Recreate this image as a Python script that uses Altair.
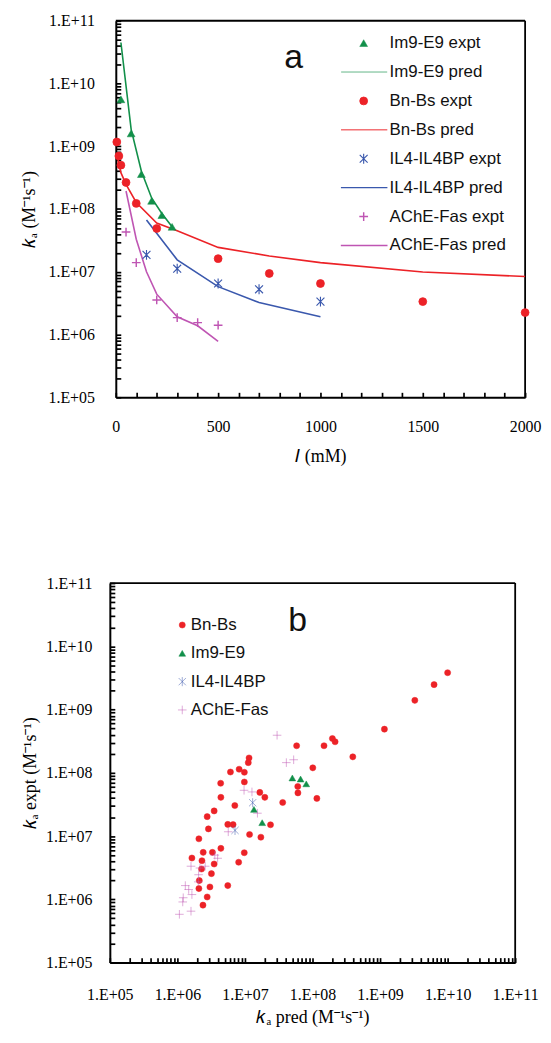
import altair as alt
import pandas as pd

# ---------------- Panel a data (ionic strength dependence) ----------------
im9_I = [25, 75, 125, 175, 225, 275]
im9_expt = [5.6e9, 1.6e9, 3.6e8, 1.35e8, 8.0e7, 5.2e7]
im9_pred_I = [25, 75, 125, 175, 225, 275]
im9_pred = [4.5e10, 1.86e9, 4.0e8, 1.5e8, 8.5e7, 5.2e7]

bn_I = [5, 15, 25, 50, 100, 200, 500, 750, 1000, 1500, 2000]
bn_expt = [1.17e9, 7.0e8, 5.0e8, 2.65e8, 1.23e8, 4.9e7, 1.62e7, 9.4e6, 6.5e6, 3.35e6, 2.24e6]
bn_pred_I = [10, 25, 50, 100, 200, 300, 500, 750, 1000, 1500, 2000]
bn_pred = [6.2e8, 3.8e8, 2.47e8, 1.27e8, 6.0e7, 4.5e7, 2.45e7, 1.79e7, 1.4e7, 9.95e6, 8.4e6]

il4_I = [150, 300, 500, 700, 1000]
il4_expt = [1.86e7, 1.12e7, 6.5e6, 5.26e6, 3.35e6]
il4_pred_I = [150, 300, 500, 700, 1000]
il4_pred = [6.7e7, 1.55e7, 5.8e6, 3.24e6, 1.92e6]

ache_I = [50, 100, 200, 300, 400, 500]
ache_expt = [4.3e7, 1.4e7, 3.56e6, 1.86e6, 1.55e6, 1.41e6]
ache_pred_I = [50, 100, 150, 200, 300, 400, 500]
ache_pred = [1.94e8, 3.3e7, 1.0e7, 4.4e6, 1.92e6, 1.38e6, 7.8e5]

# ---------------- Panel b data (expt vs pred) ----------------
bn_b_pred = [1.0e10, 6.3e9, 3.27e9, 1.16e9, 3.95e8, 1.97e8, 2.16e8, 1.48e8, 5.82e7, 1.01e8,
             6.05e7, 6.08e7, 1.16e8, 3.62e7, 2.39e7, 1.72e7, 1.17e7, 1.97e7, 1.66e7, 1.15e7,
             1.12e7, 8.2e6, 6.1e6, 9.8e6, 4.37e6, 9.8e6, 4.4e6, 7.08e6, 3.5e6, 2.76e6,
             2.88e6, 5.57e6, 6.67e6, 2.08e6, 4.4e6, 2.41e6, 3.3e6, 9.77e6, 1.64e6, 2.31e6,
             3.5e6, 8.07e6, 2.28e6, 3.19e6, 2.11e6, 2.08e6, 3.03e6, 5.57e6, 2.76e6, 2.39e6]
bn_b_expt = [3.83e9, 2.48e9, 1.4e9, 4.9e8, 1.79e8, 3.49e8, 3.1e8, 2.68e8, 2.68e8, 1.2e8,
             6.09e7, 4.82e7, 3.94e7, 3.4e7, 1.51e7, 9.6e6, 1.06e7, 4.1e7, 4.9e7, 1.72e8,
             1.45e8, 1.14e8, 1.03e8, 1.02e8, 6.84e7, 7.16e7, 4.1e7, 3.04e7, 2.5e7, 2.03e7,
             1.3e7, 1.53e7, 1.52e7, 9.06e6, 6.4e6, 5.53e6, 5.53e6, 5.46e6, 4.5e6, 4.08e6,
             3.62e6, 3.86e6, 3.02e6, 2.55e6, 1.98e6, 1.48e6, 1.57e6, 1.65e6, 1.09e6, 8.1e5]

im9_b_pred = [5.03e7, 6.66e7, 8.08e7, 1.36e7, 1.8e7]
im9_b_expt = [8.3e7, 7.98e7, 6.7e7, 2.64e7, 1.63e7]

il4_b_pred = [1.3e7, 7.13e6]
il4_b_expt = [3.37e7, 1.23e7]

ache_b_pred = [2.99e7, 4.1e7, 5.26e7, 9.7e6, 1.27e7, 1.53e7, 5.66e6, 3.94e6, 3.58e6, 1.59e6,
               2.16e6, 2.58e6, 2.06e6, 2.04e6, 1.31e6, 1.47e6, 1.64e6, 1.22e6, 1.2e6, 1.07e6, 1.59e6]
ache_b_expt = [3.93e8, 1.45e8, 1.61e8, 5.3e7, 4.99e7, 2.3e7, 1.17e7, 4.46e6, 5.0e6, 3.34e6,
               3.13e6, 3.34e6, 2.45e6, 1.89e6, 1.65e6, 1.43e6, 1.19e6, 1.06e6, 9.1e5, 5.8e5, 6.5e5]

# ---------------- styling ----------------
GREEN = "#12904a"
RED = "#ec2227"
BLUE = "#3a58ad"
PURPLE = "#bf55b3"

TRI = "triangle-up"
CIRC = "circle"
AST = "M-1,-1L1,1M-1,1L1,-1M0,-1.25L0,1.25"
PLUS = "M-1.1,0L1.1,0M0,-1.1L0,1.1"
LINE = "M-5.75,0L6,0"

SERIF = "Liberation Serif"
SANS = "Liberation Sans"

labels_a = ["Im9-E9 expt", "Im9-E9 pred", "Bn-Bs expt", "Bn-Bs pred",
            "IL4-IL4BP expt", "IL4-IL4BP pred", "AChE-Fas expt", "AChE-Fas pred"]
colors_a = [GREEN, GREEN, RED, RED, BLUE, BLUE, PURPLE, PURPLE]
fills_a = [GREEN, "transparent", RED, "transparent", "transparent", "transparent", "transparent", "transparent"]
shapes_a = [TRI, LINE, CIRC, LINE, AST, LINE, PLUS, LINE]
sizes_a = [62, 64, 38, 64, 90, 64, 90, 64]
widths_a = [0.5, 1.6, 0.5, 1.6, 2.1, 1.6, 2.1, 1.6]

pred_labels_a = ["Im9-E9 pred", "Bn-Bs pred", "IL4-IL4BP pred", "AChE-Fas pred"]
pred_colors_a = [GREEN, RED, BLUE, PURPLE]

labels_b = ["Bn-Bs", "Im9-E9", "IL4-IL4BP", "AChE-Fas"]
colors_b = [RED, GREEN, BLUE, PURPLE]
fills_b = [RED, GREEN, "transparent", "transparent"]
shapes_b = [CIRC, TRI, AST, PLUS]
sizes_b = [38, 62, 90, 90]
widths_b = [0.5, 0.5, 2.1, 2.1]


def log_ticks():
    vals = []
    for e in range(5, 11):
        for m in range(1, 10):
            vals.append(float(m) * 10.0 ** e)
    vals.append(1e11)
    return vals


LOG_LABEL = ("abs(log(datum.value)/LN10 - round(log(datum.value)/LN10)) < 1e-6 ? "
             "'1.E+' + (round(log(datum.value)/LN10) < 10 ? '0' : '') + round(log(datum.value)/LN10) : ''")

AXIS_COMMON = dict(grid=False, domain=True, domainColor="black", domainWidth=2,
                   ticks=True, tickColor="black", tickWidth=1.7, labelFlush=False)


def make_legend(x, y, offset, row_pad):
    return alt.Legend(title=None, orient="none", legendX=x, legendY=y,
                      labelFont=SANS, labelFontSize=17, labelColor="#111",
                      labelOffset=offset, rowPadding=row_pad, padding=0,
                      symbolFillColor="transparent", symbolOpacity=1)


def series_channels(labels, colors, fills, shapes, sizes, widths, leg):
    return dict(
        stroke=alt.Stroke("series:N", scale=alt.Scale(domain=labels, range=colors), legend=leg),
        fill=alt.Fill("series:N", scale=alt.Scale(domain=labels, range=fills), legend=leg),
        shape=alt.Shape("series:N", scale=alt.Scale(domain=labels, range=shapes), legend=leg),
        size=alt.Size("series:N", scale=alt.Scale(domain=labels, range=sizes), legend=leg),
        strokeWidth=alt.StrokeWidth("series:N", scale=alt.Scale(domain=labels, range=widths), legend=leg),
    )


# ---------------- Panel a ----------------
rows_pts = []
for lab, xs, ys in [("Im9-E9 expt", im9_I, im9_expt), ("Bn-Bs expt", bn_I, bn_expt),
                    ("IL4-IL4BP expt", il4_I, il4_expt), ("AChE-Fas expt", ache_I, ache_expt)]:
    for x, y in zip(xs, ys):
        rows_pts.append({"series": lab, "I": x, "ka": y})
df_a_pts = pd.DataFrame(rows_pts)

rows_lines = []
for lab, xs, ys in [("Im9-E9 pred", im9_pred_I, im9_pred), ("Bn-Bs pred", bn_pred_I, bn_pred),
                    ("IL4-IL4BP pred", il4_pred_I, il4_pred), ("AChE-Fas pred", ache_pred_I, ache_pred)]:
    for x, y in zip(xs, ys):
        rows_lines.append({"series": lab, "I": x, "ka": y})
df_a_lines = pd.DataFrame(rows_lines)

W_A = 412
H_A = 379

x_a = alt.X("I:Q", scale=alt.Scale(domain=[0, 2000], nice=False, zero=False),
            axis=alt.Axis(title="𝐼 (mM)", values=list(range(0, 2001, 100)),
                          labelExpr="datum.value % 500 === 0 ? datum.label : ''",
                          format="d", tickSize={"expr": "-5"}, labelPadding=26,
                          titlePadding=14, **AXIS_COMMON))
y_a = alt.Y("ka:Q", scale=alt.Scale(type="log", domain=[1e5, 1e11], nice=False),
            axis=alt.Axis(title="𝑘ₐ (M⁻¹s⁻¹)", values=log_ticks(), labelExpr=LOG_LABEL,
                          tickSize={"expr": "-5"}, labelPadding=26.5, titlePadding=9.5, **AXIS_COMMON))

lines_a = alt.Chart(df_a_lines).mark_line(strokeWidth=1.6).encode(
    x=x_a, y=y_a,
    color=alt.Color("series:N", scale=alt.Scale(domain=pred_labels_a, range=pred_colors_a), legend=None),
    order="I:Q",
)

leg_a = make_legend(241, 14, 17.5, 11.1)
pts_a = alt.Chart(df_a_pts).mark_point(opacity=1).encode(
    x=x_a, y=y_a,
    **series_channels(labels_a, colors_a, fills_a, shapes_a, sizes_a, widths_a, leg_a)
)

frame_a_top = alt.Chart(pd.DataFrame({"k": [0]})).mark_rule(color="black", strokeWidth=1.8).encode(
    x=alt.value(0), x2=alt.value(W_A), y=alt.value(0))
frame_a_right = alt.Chart(pd.DataFrame({"k": [0]})).mark_rule(color="black", strokeWidth=1.8).encode(
    x=alt.value(W_A), y=alt.value(0), y2=alt.value(H_A))

tag_a = alt.Chart(pd.DataFrame({"t": ["a"]})).mark_text(
    font=SANS, fontSize=34, color="#111", align="center", baseline="alphabetic"
).encode(text="t:N", x=alt.value(179), y=alt.value(48))

panel_a = alt.layer(frame_a_top, frame_a_right, lines_a, pts_a, tag_a).properties(
    width=W_A, height=H_A,
    view=alt.ViewBackground(stroke=None)
)

# ---------------- Panel b ----------------
rows_b = []
for lab, xs, ys in [("Bn-Bs", bn_b_pred, bn_b_expt), ("Im9-E9", im9_b_pred, im9_b_expt),
                    ("IL4-IL4BP", il4_b_pred, il4_b_expt), ("AChE-Fas", ache_b_pred, ache_b_expt)]:
    for x, y in zip(xs, ys):
        rows_b.append({"series": lab, "pred": x, "expt": y})
df_b = pd.DataFrame(rows_b)

W_B = 402   # view width; the x range starts 6 px left of the view origin
H_B = 382

leg_b = make_legend(58.4, 33.7, 0, 10.5)
pts_b = alt.Chart(df_b).mark_point(opacity=1).encode(
    x=alt.X("pred:Q", scale=alt.Scale(type="log", domain=[1e5, 1e11], nice=False, range=[-6, W_B]),
            axis=alt.Axis(title="𝑘ₐ pred (M⁻¹s⁻¹)", values=log_ticks(), labelExpr=LOG_LABEL,
                          tickSize={"expr": "-5"}, labelPadding=29, titlePadding=6.5, **AXIS_COMMON)),
    y=alt.Y("expt:Q", scale=alt.Scale(type="log", domain=[1e5, 1e11], nice=False),
            axis=alt.Axis(title="𝑘ₐ expt (M⁻¹s⁻¹)", values=log_ticks(), labelExpr=LOG_LABEL,
                          tickSize={"expr": "-5"}, offset=6, labelPadding=23, titlePadding=6,
                          **AXIS_COMMON)),
    **series_channels(labels_b, colors_b, fills_b, shapes_b, sizes_b, widths_b, leg_b)
)

frame_top = alt.Chart(pd.DataFrame({"k": [0]})).mark_rule(color="black", strokeWidth=1.8).encode(
    x=alt.value(-6), x2=alt.value(W_B), y=alt.value(0))
frame_right = alt.Chart(pd.DataFrame({"k": [0]})).mark_rule(color="black", strokeWidth=1.8).encode(
    x=alt.value(W_B), y=alt.value(0), y2=alt.value(H_B))

tag_b = alt.Chart(pd.DataFrame({"t": ["b"]})).mark_text(
    font=SANS, fontSize=34, color="#111", align="center", baseline="alphabetic"
).encode(text="t:N", x=alt.value(183), y=alt.value(48))

panel_b = alt.layer(frame_top, frame_right, pts_b, tag_b).properties(
    width=W_B, height=H_B,
    view=alt.ViewBackground(stroke=None)
)

chart = alt.vconcat(panel_a, panel_b, spacing=110).resolve_scale(
    color="independent", stroke="independent", shape="independent", fill="independent",
    size="independent", strokeWidth="independent"
).resolve_legend(
    stroke="independent", shape="independent", fill="independent",
    size="independent", strokeWidth="independent"
).properties(
    padding={"left": 12.5, "top": 1.5, "right": 2, "bottom": 0}
).configure_axis(
    labelFont=SERIF, labelFontSize=16, labelColor="black",
    titleFont=SERIF, titleFontSize=18, titleFontWeight="normal", titleColor="black",
    labelBound=False, labelOverlap=False
)

chart.save("out.html", embed_options={"renderer": "svg", "actions": False})
